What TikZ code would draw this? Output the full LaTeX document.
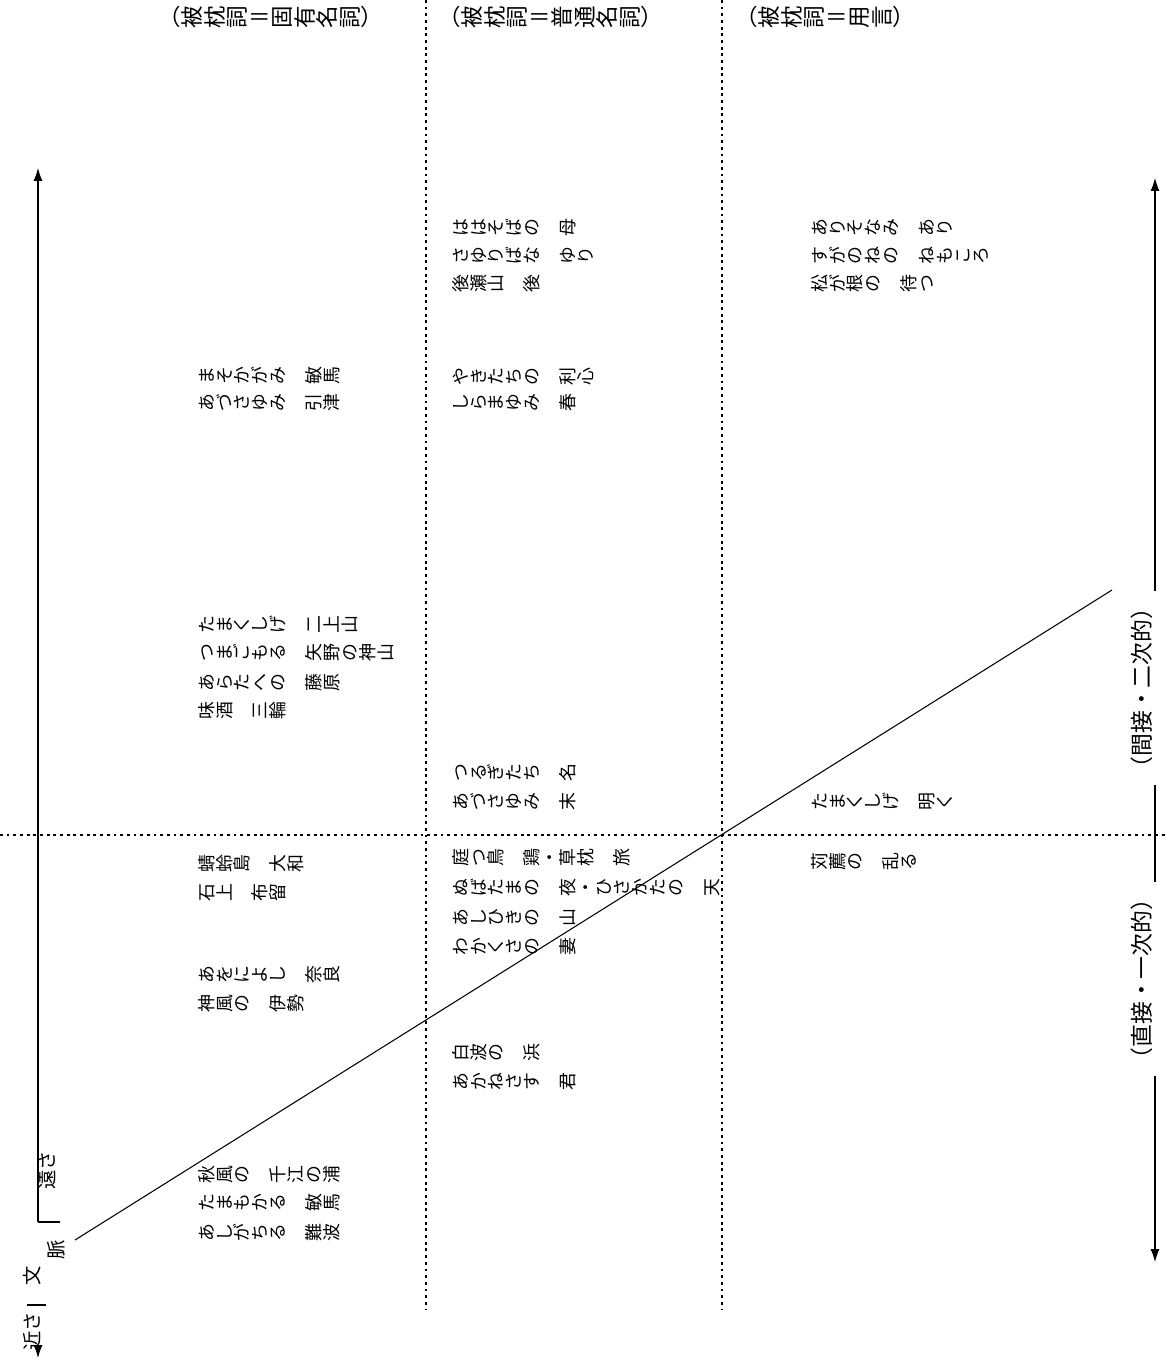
\documentclass[tikz,border=0pt]{standalone}
\usepackage{fontspec}
\usepackage{graphicx}
\usepackage{tikz}
\usetikzlibrary{arrows.meta}
\newfontfamily\yoko{Noto Sans CJK JP}

% each glyph turned a quarter left, text running left to right
\makeatletter
\newcommand\tatemoji[1]{\@tfor\tm@c:=#1\do{\makebox[1em]{\rotatebox[origin=c]{90}{\raisebox{0pt}[0.88em][0.12em]{\tm@c}}}}}
\makeatother

\begin{document}
\begin{tikzpicture}[x=0.02cm, y=-0.02cm, every node/.style={inner sep=0pt}]
\tikzset{uta/.style={anchor=west, font=\yoko\fontsize{10.2}{12}\selectfont}}
\tikzset{midashi/.style={anchor=west, font=\yoko\fontsize{12.8}{14}\selectfont}}
\tikzset{jiku/.style={rotate=90, fill=white, inner sep=3pt, font=\yoko\fontsize{13}{15}\selectfont}}
\tikzset{kyori/.style={rotate=90, font=\yoko\fontsize{11}{12}\selectfont}}
\tikzset{kugiri/.style={dash pattern=on 1.6pt off 2.2pt, line width=0.7pt}}
\tikzset{sen/.style={line width=0.6pt}}
\useasboundingbox (0,0) rectangle (1168,1361);

% headers
\node[midashi] (h1) at (158,17) {（\tatemoji{被枕詞}＝\tatemoji{固有名詞}）};
\node[midashi] (h2) at (438,17) {（\tatemoji{被枕詞}＝\tatemoji{普通名詞}）};
\node[midashi] (h3) at (735,17) {（\tatemoji{被枕詞}＝\tatemoji{用言}）};

% dotted frame
\coordinate (v1t) at (426,0);
\coordinate (v1b) at (426,1310);
\coordinate (v2t) at (722,0);
\coordinate (v2b) at (722,1310);
\coordinate (hl) at (0,835);
\coordinate (hr) at (1165,835);
\draw[kugiri] (v1t) -- (v1b);
\draw[kugiri] (v2t) -- (v2b);
\draw[kugiri] (hl) -- (hr);

% left axis
\coordinate (lt) at (38,168);
\coordinate (lm) at (38,1222);
\coordinate (lk) at (60,1222);
\coordinate (lb1) at (38,1347);
\coordinate (lb2) at (38,1358);
\coordinate (lt1) at (27,1305);
\coordinate (lt2) at (46,1305);
\draw[sen, -{Latex[length=2.6mm,width=1.8mm]}] (lm) -- (lt);
\draw[sen] (lm) -- (lk);
\draw[sen] (lt1) -- (lt2);
\draw[sen, -{Latex[length=2.6mm,width=1.8mm]}] (lb1) -- (lb2);
\node[kyori] (tooi) at (47,1170) {遠さ};
\node[kyori] (bun) at (32,1276) {文};
\node[kyori] (myaku) at (56,1250) {脈};
\node[kyori] (chikai) at (32,1331) {近さ};

% right axis
\coordinate (rt) at (1155,178);
\coordinate (rb) at (1155,1262);
\draw[sen, {Latex[length=2.6mm,width=1.8mm]}-{Latex[length=2.6mm,width=1.8mm]}] (rb) -- (rt);
\node[jiku] (kansetsu) at (1142,688) {（間接・二次的）};
\node[jiku] (chokusetsu) at (1142,979) {（直接・一次的）};

% diagonal
\coordinate (d1) at (75,1240);
\coordinate (d2) at (1112,590);
\draw[sen] (d1) -- (d2);

% column 1
\node[uta] (a1) at (197,376) {\tatemoji{まそかがみ　敏馬}};
\node[uta] (a2) at (197,403) {\tatemoji{あづさゆみ　引津}};
\node[uta] (a3) at (197,625) {\tatemoji{たまくしげ　二上山}};
\node[uta] (a4) at (197,653) {\tatemoji{つまごもる　矢野の神山}};
\node[uta] (a5) at (197,683) {\tatemoji{あらたへの　藤原}};
\node[uta] (a6) at (197,711) {\tatemoji{味酒　三輪}};
\node[uta] (a7) at (197,864) {\tatemoji{蜻蛉島　大和}};
\node[uta] (a8) at (197,893) {\tatemoji{石上　布留}};
\node[uta] (a9) at (197,975) {\tatemoji{あをによし　奈良}};
\node[uta] (a10) at (197,1004) {\tatemoji{神風の　伊勢}};
\node[uta] (a11) at (197,1175) {\tatemoji{秋風の　千江の浦}};
\node[uta] (a12) at (197,1203) {\tatemoji{たまもかる　敏馬}};
\node[uta] (a13) at (197,1233) {\tatemoji{あしがちる　難波}};

% column 2
\node[uta] (b1) at (451,228) {\tatemoji{ははそばの　母}};
\node[uta] (b2) at (451,256) {\tatemoji{さゆりばな　ゆり}};
\node[uta] (b3) at (451,284) {\tatemoji{後瀬山　後}};
\node[uta] (b4) at (451,377) {\tatemoji{やきたちの　利心}};
\node[uta] (b5) at (451,403) {\tatemoji{しらまゆみ　春}};
\node[uta] (b6) at (451,773) {\tatemoji{つるぎたち　名}};
\node[uta] (b7) at (451,802) {\tatemoji{あづさゆみ　末}};
\node[uta] (b8) at (451,858) {\tatemoji{庭つ鳥　鶏・草枕　旅}};
\node[uta] (b9) at (451,888) {\tatemoji{ぬばたまの　夜・ひさかたの　天}};
\node[uta] (b10) at (451,918) {\tatemoji{あしひきの　山}};
\node[uta] (b11) at (451,947) {\tatemoji{わかくさの　妻}};
\node[uta] (b12) at (451,1053) {\tatemoji{白波の　浜}};
\node[uta] (b13) at (451,1082) {\tatemoji{あかねさす　君}};

% column 3
\node[uta] (c1) at (810,228) {\tatemoji{ありそなみ　あり}};
\node[uta] (c2) at (810,256) {\tatemoji{すがのねの　ねもころ}};
\node[uta] (c3) at (810,284) {\tatemoji{松が根の　待つ}};
\node[uta] (c4) at (810,802) {\tatemoji{たまくしげ　明く}};
\node[uta] (c5) at (810,862) {\tatemoji{苅薦の　乱る}};
\end{tikzpicture}
\end{document}
